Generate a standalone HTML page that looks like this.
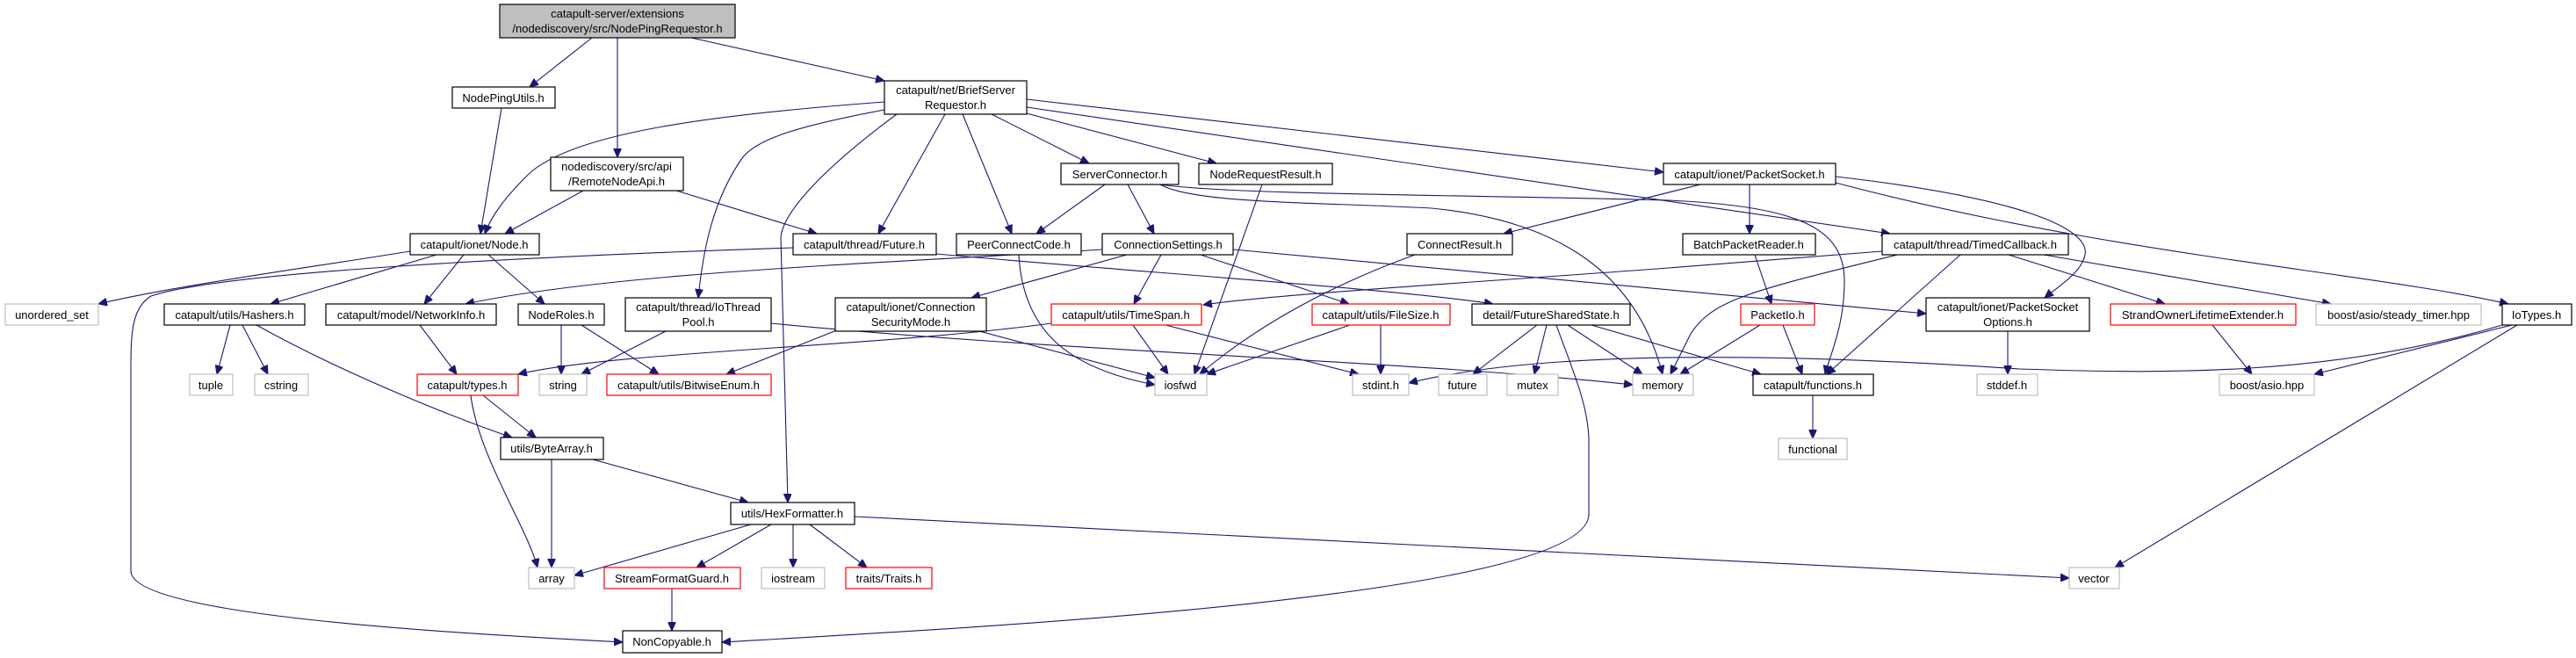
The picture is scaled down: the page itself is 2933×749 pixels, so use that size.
<!DOCTYPE html>
<html><head><meta charset="utf-8"><style>
html,body{margin:0;padding:0;background:#fff;}
svg{display:block;}
text{font-family:"Liberation Sans",Arial,sans-serif;font-size:13px;fill:#000;text-anchor:middle;}
.n{fill:#fff;stroke:#000;stroke-width:1.2;}
.g{fill:#fff;stroke:#bfbfbf;stroke-width:1.2;}
.r{fill:#fff;stroke:#ff0000;stroke-width:1.2;}
.e{fill:none;stroke:#191970;stroke-width:1.1;marker-end:url(#a);}
</style></head><body>
<svg width="2933" height="749" viewBox="0 0 2933 749" xmlns="http://www.w3.org/2000/svg">
<defs><marker id="a" markerUnits="userSpaceOnUse" markerWidth="11" markerHeight="9" refX="10" refY="4.5" orient="auto"><path d="M0,0 L10,4.5 L0,9 z" fill="#191970" stroke="#191970"/></marker></defs>
<g>
<path class="e" d="M674,43 L603,99"/>
<path class="e" d="M703,43 L703,179"/>
<path class="e" d="M787,43 L1007,92"/>
<path class="e" d="M571,123 L547,266"/>
<path class="e" d="M664,217 L575,266"/>
<path class="e" d="M770,217 L930,266"/>
<path class="e" d="M1007,116 C820,130 650,150 600,200 C575,225 560,245 552,266"/>
<path class="e" d="M1007,125 C900,145 860,160 845,180 C810,230 800,290 795,339"/>
<path class="e" d="M1021,130 C940,190 892,240 889,270 L897,572"/>
<path class="e" d="M1076,130 L1000,266"/>
<path class="e" d="M1096,130 L1152,266"/>
<path class="e" d="M1129,130 L1240,186"/>
<path class="e" d="M1165,128 L1385,186"/>
<path class="e" d="M1169,113 L1894,196"/>
<path class="e" d="M1169,122 L2152,266"/>
<path class="e" d="M1258,210 L1180,266"/>
<path class="e" d="M1284,210 L1314,266"/>
<path class="e" d="M1321,210 C1360,232 1500,230 1630,237 C1760,250 1860,300 1893,426"/>
<path class="e" d="M1321,210 C1400,222 1700,222 1900,228 C2050,235 2100,260 2100,320 C2100,370 2085,400 2078,426"/>
<path class="e" d="M1437,210 L1360,426"/>
<path class="e" d="M1936,210 L1712,266"/>
<path class="e" d="M1992,210 L1992,266"/>
<path class="e" d="M2090,201 C2300,225 2380,260 2374,290 C2370,310 2345,325 2328,339"/>
<path class="e" d="M2090,208 C2400,290 2700,310 2856,346"/>
<path class="e" d="M1255,284 C1000,300 700,310 530,346"/>
<path class="e" d="M1283,290 L1106,339"/>
<path class="e" d="M1322,290 L1291,346"/>
<path class="e" d="M1367,290 L1536,346"/>
<path class="e" d="M1404,284 L2193,357"/>
<path class="e" d="M1160,290 C1165,380 1220,420 1315,438"/>
<path class="e" d="M1611,290 C1500,330 1420,380 1366,426"/>
<path class="e" d="M1998,290 L2017,346"/>
<path class="e" d="M2143,286 L1900,305 C1700,320 1450,335 1370,347"/>
<path class="e" d="M2160,290 C2000,330 1950,340 1925,380 L1902,426"/>
<path class="e" d="M2232,290 L2080,426"/>
<path class="e" d="M2287,290 L2465,346"/>
<path class="e" d="M2327,290 L2654,346"/>
<path class="e" d="M2004,370 L1913,426"/>
<path class="e" d="M2030,370 L2052,426"/>
<path class="e" d="M2286,377 L2286,426"/>
<path class="e" d="M2519,370 L2564,426"/>
<path class="e" d="M2849,370 C2650,430 2450,425 2300,420 C2000,400 1750,400 1604,436"/>
<path class="e" d="M2860,370 L2635,426"/>
<path class="e" d="M2866,370 L2408,646"/>
<path class="e" d="M758,377 L662,426"/>
<path class="e" d="M878,368 C1200,400 1600,410 1859,438"/>
<path class="e" d="M955,375 L827,426"/>
<path class="e" d="M1115,377 L1315,430"/>
<path class="e" d="M1197,368 C1000,395 700,400 590,426"/>
<path class="e" d="M1290,370 L1330,426"/>
<path class="e" d="M1327,370 L1547,426"/>
<path class="e" d="M1572,370 L1572,426"/>
<path class="e" d="M1537,370 L1374,426"/>
<path class="e" d="M1750,370 L1677,426"/>
<path class="e" d="M1761,370 L1747,426"/>
<path class="e" d="M1785,370 L1870,426"/>
<path class="e" d="M1812,370 L2005,426"/>
<path class="e" d="M1772,370 C1790,420 1808,460 1809,500 L1809,587 C1800,680 1100,715 822,731"/>
<path class="e" d="M467,286 C350,305 200,325 112,346"/>
<path class="e" d="M497,290 L308,346"/>
<path class="e" d="M528,290 L483,346"/>
<path class="e" d="M556,290 L620,346"/>
<path class="e" d="M903,282 C600,292 250,310 172,337 C150,350 149,380 149,420 L149,650 C149,700 500,720 709,731"/>
<path class="e" d="M1066,289 C1300,310 1600,330 1700,346"/>
<path class="e" d="M262,370 L247,426"/>
<path class="e" d="M276,370 L305,426"/>
<path class="e" d="M292,370 C400,430 530,480 583,498"/>
<path class="e" d="M478,370 L520,426"/>
<path class="e" d="M639,370 L639,426"/>
<path class="e" d="M662,370 L750,426"/>
<path class="e" d="M550,450 L610,498"/>
<path class="e" d="M536,450 C545,520 600,600 612,646"/>
<path class="e" d="M628,523 L628,646"/>
<path class="e" d="M675,523 L852,572"/>
<path class="e" d="M855,597 L654,655"/>
<path class="e" d="M878,597 L793,646"/>
<path class="e" d="M903,597 L903,646"/>
<path class="e" d="M922,597 L987,646"/>
<path class="e" d="M973,588 L2356,658"/>
<path class="e" d="M765,670 L765,718"/>
<path class="e" d="M2064,450 L2064,499"/>
</g>
<g>
<rect x="569" y="5" width="268" height="38" fill="#bfbfbf" stroke="#000" stroke-width="1.2"/>
<text x="703" y="20">catapult-server/extensions</text><text x="703" y="37">/nodediscovery/src/NodePingRequestor.h</text>
<rect class="n" x="515" y="99" width="117" height="24"/><text x="573" y="116">NodePingUtils.h</text>
<rect class="n" x="627" y="179" width="151" height="38"/><text x="702" y="194">nodediscovery/src/api</text><text x="702" y="211">/RemoteNodeApi.h</text>
<rect class="n" x="1007" y="92" width="162" height="38"/><text x="1088" y="107">catapult/net/BriefServer</text><text x="1088" y="124">Requestor.h</text>
<rect class="n" x="467" y="266" width="147" height="24"/><text x="540" y="283">catapult/ionet/Node.h</text>
<rect class="n" x="903" y="266" width="163" height="24"/><text x="984" y="283">catapult/thread/Future.h</text>
<rect class="n" x="1089" y="266" width="142" height="24"/><text x="1160" y="283">PeerConnectCode.h</text>
<rect class="n" x="1255" y="266" width="149" height="24"/><text x="1330" y="283">ConnectionSettings.h</text>
<rect class="n" x="1208" y="186" width="134" height="24"/><text x="1275" y="203">ServerConnector.h</text>
<rect class="n" x="1365" y="186" width="152" height="24"/><text x="1441" y="203">NodeRequestResult.h</text>
<rect class="n" x="1894" y="186" width="196" height="24"/><text x="1992" y="203">catapult/ionet/PacketSocket.h</text>
<rect class="n" x="1602" y="266" width="120" height="24"/><text x="1662" y="283">ConnectResult.h</text>
<rect class="n" x="1916" y="266" width="151" height="24"/><text x="1991" y="283">BatchPacketReader.h</text>
<rect class="n" x="2143" y="266" width="212" height="24"/><text x="2249" y="283">catapult/thread/TimedCallback.h</text>
<rect class="g" x="6" y="346" width="106" height="24"/><text x="59" y="363">unordered_set</text>
<rect class="n" x="187" y="346" width="160" height="24"/><text x="267" y="363">catapult/utils/Hashers.h</text>
<rect class="n" x="371" y="346" width="194" height="24"/><text x="468" y="363">catapult/model/NetworkInfo.h</text>
<rect class="n" x="590" y="346" width="98" height="24"/><text x="639" y="363">NodeRoles.h</text>
<rect class="n" x="712" y="339" width="166" height="38"/><text x="795" y="354">catapult/thread/IoThread</text><text x="795" y="371">Pool.h</text>
<rect class="n" x="951" y="339" width="172" height="38"/><text x="1037" y="354">catapult/ionet/Connection</text><text x="1037" y="371">SecurityMode.h</text>
<rect class="r" x="1197" y="346" width="171" height="24"/><text x="1282" y="363">catapult/utils/TimeSpan.h</text>
<rect class="r" x="1494" y="346" width="157" height="24"/><text x="1572" y="363">catapult/utils/FileSize.h</text>
<rect class="n" x="1676" y="346" width="180" height="24"/><text x="1766" y="363">detail/FutureSharedState.h</text>
<rect class="r" x="1982" y="346" width="84" height="24"/><text x="2024" y="363">PacketIo.h</text>
<rect class="n" x="2193" y="339" width="186" height="38"/><text x="2286" y="354">catapult/ionet/PacketSocket</text><text x="2286" y="371">Options.h</text>
<rect class="r" x="2403" y="346" width="211" height="24"/><text x="2508" y="363">StrandOwnerLifetimeExtender.h</text>
<rect class="g" x="2637" y="346" width="188" height="24"/><text x="2731" y="363">boost/asio/steady_timer.hpp</text>
<rect class="n" x="2849" y="346" width="79" height="24"/><text x="2888" y="363">IoTypes.h</text>
<rect class="g" x="216" y="426" width="49" height="24"/><text x="240" y="443">tuple</text>
<rect class="g" x="290" y="426" width="61" height="24"/><text x="320" y="443">cstring</text>
<rect class="r" x="475" y="426" width="115" height="24"/><text x="532" y="443">catapult/types.h</text>
<rect class="g" x="614" y="426" width="54" height="24"/><text x="641" y="443">string</text>
<rect class="r" x="691" y="426" width="187" height="24"/><text x="784" y="443">catapult/utils/BitwiseEnum.h</text>
<rect class="g" x="1315" y="426" width="59" height="24"/><text x="1344" y="443">iosfwd</text>
<rect class="g" x="1540" y="426" width="64" height="24"/><text x="1572" y="443">stdint.h</text>
<rect class="g" x="1638" y="426" width="55" height="24"/><text x="1665" y="443">future</text>
<rect class="g" x="1716" y="426" width="58" height="24"/><text x="1745" y="443">mutex</text>
<rect class="g" x="1859" y="426" width="69" height="24"/><text x="1893" y="443">memory</text>
<rect class="n" x="1996" y="426" width="137" height="24"/><text x="2064" y="443">catapult/functions.h</text>
<rect class="g" x="2251" y="426" width="69" height="24"/><text x="2285" y="443">stddef.h</text>
<rect class="g" x="2527" y="426" width="108" height="24"/><text x="2581" y="443">boost/asio.hpp</text>
<rect class="n" x="570" y="498" width="117" height="25"/><text x="628" y="515">utils/ByteArray.h</text>
<rect class="g" x="2025" y="499" width="78" height="24"/><text x="2064" y="516">functional</text>
<rect class="n" x="832" y="572" width="141" height="25"/><text x="902" y="589">utils/HexFormatter.h</text>
<rect class="g" x="602" y="646" width="52" height="24"/><text x="628" y="663">array</text>
<rect class="r" x="688" y="646" width="155" height="24"/><text x="765" y="663">StreamFormatGuard.h</text>
<rect class="g" x="867" y="646" width="72" height="24"/><text x="903" y="663">iostream</text>
<rect class="r" x="963" y="646" width="98" height="24"/><text x="1012" y="663">traits/Traits.h</text>
<rect class="g" x="2356" y="646" width="57" height="24"/><text x="2384" y="663">vector</text>
<rect class="n" x="709" y="718" width="113" height="25"/><text x="765" y="735">NonCopyable.h</text>
</g>
</svg>
</body></html>
